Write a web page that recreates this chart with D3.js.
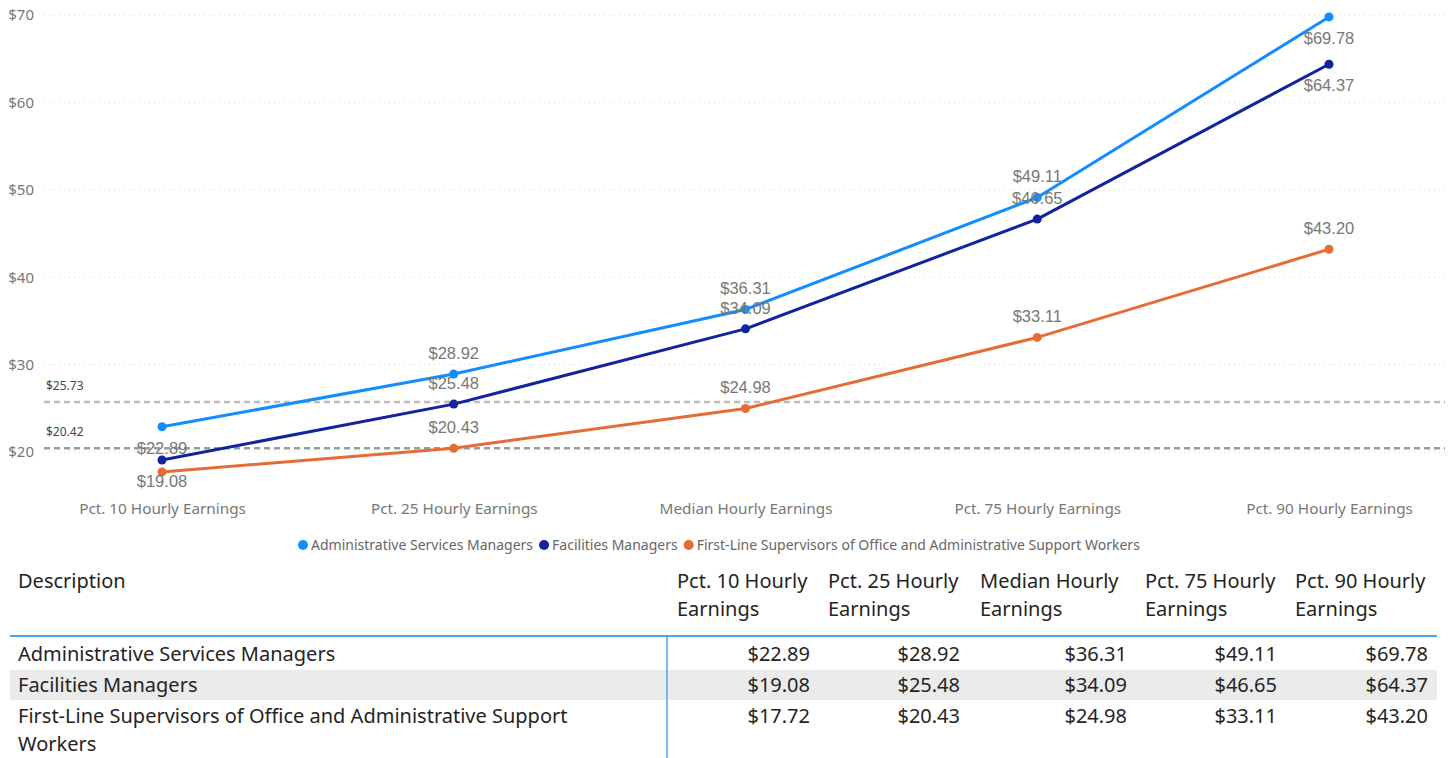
<!DOCTYPE html>
<html>
<head>
<meta charset="utf-8">
<script src="https://cdn.jsdelivr.net/npm/d3@7"></script>
<style>
  body { margin: 0; background: #fff; }
  svg { display: block; }
</style>
</head>
<body>
<div id="chart"></div>
<script>
// data
const categories = ['Pct. 10 Hourly Earnings', 'Pct. 25 Hourly Earnings', 'Median Hourly Earnings', 'Pct. 75 Hourly Earnings', 'Pct. 90 Hourly Earnings']
const seriesNames = ['Administrative Services Managers', 'Facilities Managers', 'First-Line Supervisors of Office and Administrative Support Workers']
const adminValues = [22.89, 28.92, 36.31, 49.11, 69.78]
const facilitiesValues = [19.08, 25.48, 34.09, 46.65, 64.37]
const supervisorValues = [17.72, 20.43, 24.98, 33.11, 43.20]
const yTicks = [20, 30, 40, 50, 60, 70]
const refLines = [25.73, 20.42]

// styles
const colors = ['#118DFF', '#12239E', '#E66C37']
const refColors = ['#bdbdbd', '#8fa39a']
// where each data label sits (null = hidden because of overlap)
const labelPlacement = [
  ['below', 'above', 'above', 'above', 'below'],
  ['below', 'above', 'above', 'above', 'below'],
  [null, 'above', 'above', 'above', 'above']
]

const width = 1452, height = 758
const uiFont = `'Segoe UI', 'Noto Sans', 'Open Sans', sans-serif`
const labelFont = `Arial, 'Liberation Sans', sans-serif`

const svg = d3.select('#chart').append('svg')
  .attr('width', width)
  .attr('height', height)

const x = d3.scalePoint().domain(categories).range([162, 1329])
const y = d3.scaleLinear().domain([20, 70]).range([452, 15])

const fmt = d => `$${d.toFixed(2)}`

// gridlines
svg.append('g').selectAll('line').data(yTicks).join('line')
  .attr('x1', 44).attr('x2', 1445)
  .attr('y1', d => y(d)).attr('y2', d => y(d))
  .attr('stroke', '#d6d6d6')
  .attr('stroke-width', 1)
  .attr('stroke-dasharray', '1,4')

// y axis labels
const yAxis = svg.append('g')
  .attr('transform', 'translate(34,0)')
  .call(d3.axisLeft(y).tickValues(yTicks).tickSize(0).tickPadding(0).tickFormat(d => `$${d}`))
yAxis.select('.domain').remove()
yAxis.selectAll('text')
  .attr('fill', '#777')
  .style('font-family', uiFont)
  .style('font-size', '15px')

// x axis labels
const xAxis = svg.append('g')
  .attr('transform', 'translate(0,500)')
  .call(d3.axisBottom(x).tickSize(0).tickPadding(0))
xAxis.select('.domain').remove()
xAxis.selectAll('text')
  .attr('fill', '#777')
  .attr('dy', '0.32em')
  .attr('y', 9)
  .style('font-family', uiFont)
  .style('font-size', '15.3px')

// reference lines
refLines.forEach((v, i) => {
  svg.append('line')
    .attr('x1', 44).attr('x2', 1445)
    .attr('y1', y(v)).attr('y2', y(v))
    .attr('stroke', refColors[i])
    .attr('stroke-width', 2.5)
    .attr('stroke-dasharray', '6,4')
  svg.append('text')
    .attr('x', 46).attr('y', y(v) - 12)
    .attr('fill', '#444')
    .style('font-family', uiFont)
    .style('font-size', '12px')
    .text(fmt(v))
})

// lines & points
const allSeries = [adminValues, facilitiesValues, supervisorValues]
const line = d3.line().x((d, i) => x(categories[i])).y(d => y(d))

allSeries.forEach((values, s) => {
  svg.append('path')
    .attr('d', line(values))
    .attr('fill', 'none')
    .attr('stroke', colors[s])
    .attr('stroke-width', 3)
    .attr('stroke-linejoin', 'round')
  svg.append('g').selectAll('circle').data(values).join('circle')
    .attr('cx', (d, i) => x(categories[i]))
    .attr('cy', d => y(d))
    .attr('r', 4.5)
    .attr('fill', colors[s])
})

// data labels
allSeries.forEach((values, s) => {
  const labels = values
    .map((v, i) => ({ v, cat: categories[i], pos: labelPlacement[s][i] }))
    .filter(d => d.pos !== null)
  svg.append('g').selectAll('text').data(labels).join('text')
    .attr('x', d => x(d.cat))
    .attr('y', d => y(d.v) + (d.pos === 'above' ? -21 : 21))
    .attr('dy', '0.35em')
    .attr('text-anchor', 'middle')
    .attr('fill', '#777')
    .style('font-family', labelFont)
    .style('font-size', '16.5px')
    .text(d => fmt(d.v))
})

// legend
const legend = svg.append('g').attr('transform', 'translate(0,545)')
let lx = 303
seriesNames.forEach((name, i) => {
  legend.append('circle').attr('cx', lx).attr('cy', 0).attr('r', 5).attr('fill', colors[i])
  const t = legend.append('text')
    .attr('x', lx + 8).attr('y', 0).attr('dy', '0.35em')
    .attr('fill', '#666')
    .style('font-family', uiFont)
    .style('font-size', '14px')
    .text(name)
  lx += 8 + t.node().getComputedTextLength() + 11
})

///////////////////////////////////////////////////////////////////////////////
//// TABLE
///////////////////////////////////////////////////////////////////////////////

const table = svg.append('g')
const colLeft = [18, 677, 828, 980, 1145, 1295]
const colRight = [660, 810, 960, 1127, 1277, 1428]
const tableFont = `'Segoe UI', 'Noto Sans', 'Open Sans', sans-serif`
const tableSize = 20

// wrap text into lines that fit a width
function wrapLines(text, maxWidth) {
  const probe = svg.append('text').style('font-family', tableFont).style('font-size', tableSize + 'px')
  const words = text.split(' ')
  const lines = []
  let current = ''
  words.forEach(w => {
    const test = current ? current + ' ' + w : w
    probe.text(test)
    if(probe.node().getComputedTextLength() > maxWidth && current) {
      lines.push(current)
      current = w
    } else current = test
  })
  lines.push(current)
  probe.remove()
  return lines
}

function addText(x0, y0, lines, anchor) {
  const t = table.append('text')
    .attr('x', x0).attr('y', y0)
    .attr('text-anchor', anchor || 'start')
    .attr('fill', '#252423')
    .style('font-family', tableFont)
    .style('font-size', tableSize + 'px')
  lines.forEach((l, i) => t.append('tspan').attr('x', x0).attr('dy', i === 0 ? '0.35em' : 28).text(l))
}

// row band
table.append('rect')
  .attr('x', 10).attr('y', 670).attr('width', 1427).attr('height', 30)
  .attr('fill', '#ebebeb')

// header
addText(colLeft[0], 581, ['Description'])
categories.forEach((c, i) => addText(colLeft[i + 1], 581, wrapLines(c, 145)))

table.append('line')
  .attr('x1', 10).attr('x2', 1437).attr('y1', 636).attr('y2', 636)
  .attr('stroke', '#4aa3f5').attr('stroke-width', 2)
table.append('line')
  .attr('x1', 667).attr('x2', 667).attr('y1', 637).attr('y2', 758)
  .attr('stroke', '#4aa3f5').attr('stroke-width', 1.5)

const rowY = [654, 685, 716]
allSeries.forEach((values, s) => {
  addText(colLeft[0], rowY[s], wrapLines(seriesNames[s], 630))
  values.forEach((v, i) => addText(colRight[i + 1], rowY[s], [fmt(v)], 'end'))
})
</script>
</body>
</html>
